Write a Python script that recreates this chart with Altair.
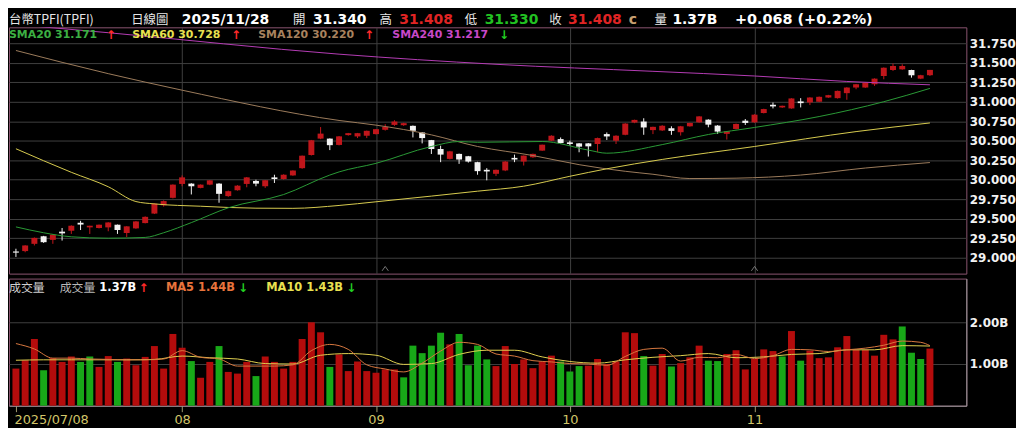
import altair as alt
import pandas as pd

# ---------------- data ----------------
idx = list(range(100))
opens = [29.080, 29.085, 29.178, 29.275, 29.229, 29.334, 29.347, 29.448, 29.389, 29.381,
         29.389, 29.423, 29.317, 29.376, 29.444, 29.566, 29.672, 29.768, 29.946, 29.950,
         29.895, 29.937, 29.950, 29.790, 29.865, 29.946, 29.984, 29.916, 30.030, 30.009,
         30.055, 30.148, 30.317, 30.527, 30.527, 30.446, 30.572, 30.555, 30.564, 30.585,
         30.640, 30.703, 30.699, 30.691, 30.606, 30.508, 30.394, 30.267, 30.331, 30.301,
         30.225, 30.127, 30.076, 30.119, 30.280, 30.233, 30.288, 30.373, 30.500, 30.521,
         30.479, 30.466, 30.466, 30.458, 30.585, 30.500, 30.576, 30.733, 30.746, 30.636,
         30.632, 30.660, 30.609, 30.685, 30.736, 30.770, 30.694, 30.588, 30.651, 30.757,
         30.736, 30.855, 30.961, 30.927, 30.914, 31.004, 30.991, 31.000, 31.054, 31.046,
         31.110, 31.182, 31.182, 31.224, 31.330, 31.407, 31.415, 31.407, 31.296, 31.340]
highs = [29.115, 29.160, 29.260, 29.280, 29.300, 29.381, 29.415, 29.473, 29.410, 29.425,
         29.455, 29.425, 29.405, 29.470, 29.530, 29.700, 29.735, 29.940, 30.055, 29.955,
         29.940, 29.995, 29.955, 29.860, 29.930, 30.035, 30.000, 29.995, 30.064, 30.070,
         30.120, 30.310, 30.510, 30.675, 30.530, 30.560, 30.600, 30.600, 30.630, 30.650,
         30.712, 30.763, 30.730, 30.695, 30.610, 30.510, 30.436, 30.370, 30.335, 30.305,
         30.230, 30.148, 30.130, 30.240, 30.322, 30.310, 30.335, 30.450, 30.570, 30.542,
         30.500, 30.470, 30.470, 30.540, 30.606, 30.570, 30.725, 30.770, 30.788, 30.680,
         30.700, 30.685, 30.690, 30.730, 30.815, 30.775, 30.700, 30.625, 30.720, 30.778,
         30.840, 30.910, 30.990, 30.950, 31.045, 31.046, 31.058, 31.067, 31.088, 31.143,
         31.186, 31.228, 31.250, 31.300, 31.440, 31.490, 31.480, 31.410, 31.345, 31.408]
lows = [29.010, 29.070, 29.157, 29.190, 29.178, 29.220, 29.305, 29.355, 29.305, 29.375,
        29.339, 29.305, 29.263, 29.370, 29.440, 29.560, 29.655, 29.760, 29.916, 29.811,
        29.890, 29.930, 29.705, 29.780, 29.860, 29.903, 29.916, 29.895, 29.958, 30.000,
        30.050, 30.140, 30.310, 30.520, 30.380, 30.440, 30.565, 30.534, 30.534, 30.580,
        30.630, 30.690, 30.690, 30.542, 30.466, 30.330, 30.225, 30.260, 30.203, 30.220,
        30.064, 29.992, 30.047, 30.110, 30.225, 30.182, 30.280, 30.370, 30.495, 30.465,
        30.436, 30.352, 30.297, 30.352, 30.510, 30.458, 30.570, 30.725, 30.576, 30.585,
        30.625, 30.575, 30.566, 30.680, 30.730, 30.672, 30.588, 30.515, 30.645, 30.702,
        30.730, 30.850, 30.914, 30.920, 30.910, 30.927, 30.957, 30.995, 31.050, 31.040,
        31.025, 31.160, 31.178, 31.203, 31.288, 31.395, 31.410, 31.309, 31.290, 31.330]
closes = [29.065, 29.157, 29.254, 29.199, 29.296, 29.312, 29.410, 29.425, 29.410, 29.423,
          29.452, 29.355, 29.402, 29.465, 29.524, 29.693, 29.726, 29.937, 30.030, 29.916,
          29.937, 29.992, 29.819, 29.853, 29.924, 30.030, 29.950, 29.992, 30.009, 30.064,
          30.118, 30.308, 30.506, 30.591, 30.443, 30.556, 30.597, 30.597, 30.627, 30.648,
          30.678, 30.746, 30.725, 30.627, 30.534, 30.394, 30.322, 30.364, 30.259, 30.233,
          30.110, 30.106, 30.127, 30.233, 30.259, 30.309, 30.331, 30.449, 30.564, 30.470,
          30.458, 30.424, 30.428, 30.534, 30.555, 30.564, 30.720, 30.767, 30.670, 30.678,
          30.692, 30.626, 30.685, 30.728, 30.812, 30.706, 30.617, 30.621, 30.715, 30.728,
          30.834, 30.906, 30.940, 30.948, 31.042, 30.982, 31.054, 31.063, 31.084, 31.139,
          31.182, 31.224, 31.245, 31.296, 31.436, 31.458, 31.458, 31.339, 31.340, 31.408]

volumes = [0.89, 1.09, 1.60, 0.85, 1.14, 1.05, 1.18, 1.05, 1.18, 0.93,
           1.19, 1.05, 1.13, 0.97, 1.17, 1.43, 0.89, 1.72, 1.39, 1.07,
           0.67, 1.05, 1.43, 0.81, 0.77, 1.05, 0.71, 1.18, 1.05, 0.89,
           1.05, 1.60, 2.00, 1.76, 0.93, 1.23, 0.83, 1.06, 0.83, 0.79,
           0.87, 0.87, 0.68, 1.44, 1.26, 1.44, 1.75, 1.47, 1.72, 0.97,
           1.44, 1.11, 0.95, 1.43, 1.00, 1.11, 0.90, 1.06, 1.20, 1.06,
           0.82, 0.95, 0.96, 1.12, 1.00, 1.06, 1.76, 1.74, 1.19, 0.96,
           1.24, 0.94, 1.02, 1.16, 1.44, 1.08, 1.07, 1.24, 1.33, 0.87,
           1.12, 1.35, 1.31, 1.18, 1.79, 1.08, 1.32, 1.14, 1.16, 1.40,
           1.67, 1.34, 1.34, 1.20, 1.70, 1.59, 1.90, 1.27, 1.12, 1.37]
vol_up = [1, 1, 1, 0, 1, 1, 1, 0, 0, 1,
          1, 0, 1, 1, 1, 1, 1, 1, 1, 0,
          1, 1, 0, 1, 1, 1, 0, 1, 1, 1,
          1, 1, 1, 1, 0, 1, 1, 1, 1, 1,
          1, 1, 0, 0, 0, 0, 0, 1, 0, 0,
          0, 0, 1, 1, 1, 1, 1, 1, 1, 0,
          0, 0, 1, 1, 1, 1, 1, 1, 0, 1,
          1, 0, 1, 1, 1, 0, 0, 1, 1, 1,
          1, 1, 1, 0, 1, 0, 1, 1, 1, 1,
          1, 1, 1, 1, 1, 1, 0, 0, 0, 1]

sma20_idx = [0, 3, 6, 10, 14, 16, 19, 23, 29, 34, 35, 39, 45, 48, 50, 57, 62, 64, 70, 75, 80, 87, 94, 99]
sma20_val = [29.395, 29.32, 29.268, 29.25, 29.26, 29.32, 29.45, 29.64, 29.81, 30.06, 30.10, 30.21,
             30.426, 30.49, 30.48, 30.49, 30.38, 30.34, 30.45, 30.58, 30.67, 30.81, 31.0, 31.171]
sma60_idx = [0, 6, 10, 13, 15, 20, 26, 30, 35, 39, 45, 50, 55, 60, 64, 70, 80, 91, 99]
sma60_val = [30.397, 30.095, 29.91, 29.72, 29.69, 29.66, 29.635, 29.633, 29.67, 29.717, 29.79,
             29.853, 29.917, 30.044, 30.14, 30.26, 30.426, 30.617, 30.728]
sma120_idx = [0, 10, 18, 35, 39, 45, 50, 56, 61, 66, 69, 73, 78, 85, 92, 99]
sma120_val = [31.657, 31.36, 31.148, 30.76, 30.70, 30.575, 30.426, 30.31, 30.193, 30.108, 30.07,
              30.015, 30.02, 30.06, 30.15, 30.22]
sma240_idx = [0, 10, 35, 52, 69, 80, 90, 99]
sma240_val = [31.99, 31.885, 31.61, 31.48, 31.39, 31.33, 31.26, 31.217]

ma5_idx = [0, 2, 4, 6, 8, 10, 12, 14, 16, 18, 20, 22, 24, 26, 28, 30, 32, 34, 36, 38, 40, 42, 44, 46,
           48, 50, 52, 54, 56, 58, 60, 62, 64, 66, 68, 70, 72, 74, 76, 78, 80, 82, 84, 86, 88, 90,
           92, 94, 96, 98, 99]
ma5_val = [1.49, 1.36, 1.14, 1.14, 1.12, 1.11, 1.10, 1.10, 1.12, 1.32, 1.16, 1.12, 0.95, 0.95, 0.95,
           0.98, 1.32, 1.47, 1.35, 0.98, 0.88, 0.81, 1.02, 1.31, 1.52, 1.47, 1.24, 1.19, 1.08, 1.05,
           1.01, 1.00, 0.97, 1.18, 1.35, 1.38, 1.07, 1.16, 1.15, 1.23, 1.13, 1.20, 1.35, 1.34, 1.30,
           1.34, 1.38, 1.45, 1.55, 1.52, 1.44]
ma10_idx = [0, 3, 6, 9, 12, 15, 18, 21, 24, 27, 30, 33, 36, 39, 42, 45, 48, 51, 54, 57, 60, 63, 66,
            69, 72, 75, 78, 81, 84, 87, 90, 93, 96, 99]
ma10_val = [1.09, 1.10, 1.10, 1.10, 1.10, 1.11, 1.19, 1.15, 1.12, 1.01, 1.00, 1.21, 1.25, 1.21, 0.99,
            1.01, 1.23, 1.33, 1.33, 1.17, 1.06, 1.02, 1.10, 1.16, 1.20, 1.25, 1.15, 1.17, 1.23, 1.25,
            1.34, 1.34, 1.44, 1.43]

month_idx = [0, 18, 39, 60, 80]
month_lbl = ["2025/07/08", "08", "09", "10", "11"]
price_ticks = [29.0, 29.25, 29.5, 29.75, 30.0, 30.25, 30.5, 30.75, 31.0, 31.25, 31.5, 31.75]
vol_ticks = [1.0, 2.0]
marker_idx = [40, 80]

# ---------------- styling ----------------
SANS = "DejaVu Sans"
CJK = "Noto Sans CJK TC"
GRID = "#404040"
BORDER = "#8a5570"
RED = "#c0161b"
WHITE = "#f2f2f2"
VRED = "#b40c0c"
VGREEN = "#18a818"
W = 964
H_PRICE = 248
H_VOL = 128
TOP_EXTENT = 16.5   # room above the price panel for the header line

xscale = alt.Scale(domain=[-0.213, 102.406], nice=False, zero=False)
pscale = alt.Scale(domain=[28.796, 31.954], nice=False, zero=False)
vscale = alt.Scale(domain=[0, 3.048], nice=False, zero=False)

x_price_axis = alt.Axis(values=month_idx[1:], grid=True, gridColor=GRID, labels=False,
                        ticks=False, domain=False, title=None)
y_price_axis = alt.Axis(orient="right", values=price_ticks, format=".3f", grid=True, gridColor=GRID,
                        tickSize=0, domain=False, labelPadding=3, labelColor="#f2f2f2",
                        labelFont=SANS, labelFontWeight="bold", labelFontSize=12, title=None)

xp = alt.X("i:Q", scale=xscale, axis=x_price_axis)


def yp(field):
    return alt.Y(field, scale=pscale, axis=y_price_axis)


one = pd.DataFrame({"k": [0]})


def label(text, color, x, y, size, weight="bold", font=SANS, baseline="middle"):
    return alt.Chart(one).mark_text(text=text, color=color, fontSize=size, fontWeight=weight,
                                    font=font, align="left", baseline=baseline).encode(
        x=alt.value(x), y=alt.value(y))


cdf = pd.DataFrame({"i": idx, "o": opens, "h": highs, "l": lows, "c": closes})
ccol = alt.condition("datum.c >= datum.o", alt.value(RED), alt.value(WHITE))

wicks = alt.Chart(cdf).mark_rule(strokeWidth=1).encode(x=xp, y=yp("l:Q"), y2="h:Q", color=ccol)
bodies = alt.Chart(cdf).mark_bar(size=6).encode(x=xp, y=yp("o:Q"), y2="c:Q", color=ccol)


def pline(ix, vals, color):
    d = pd.DataFrame({"i": ix, "v": vals})
    return alt.Chart(d).mark_line(color=color, strokeWidth=1, interpolate="monotone",
                                  clip=True).encode(x=xp, y=yp("v:Q"))


lines = [
    pline(sma240_idx, sma240_val, "#b43cb4"),
    pline(sma120_idx, sma120_val, "#9c7c5c"),
    pline(sma60_idx, sma60_val, "#d8cc50"),
    pline(sma20_idx, sma20_val, "#2a9a36"),
]

markers = alt.Chart(pd.DataFrame({"i": marker_idx})).mark_point(
    shape="M-1,0.7L0,-0.7L1,0.7", filled=False, color="#a8a8a8", size=40, strokeWidth=1
).encode(x=xp, y=alt.value(H_PRICE - 5))

# invisible (black on black) rule that reserves the header band above the panel
top_band = alt.Chart(one).mark_rule(color="#000000", strokeWidth=1).encode(
    x=alt.value(0), x2=alt.value(2), y=alt.value(-TOP_EXTENT), y2=alt.value(-TOP_EXTENT))

HY = -3  # header baseline (alphabetic), relative to the panel top
header = [
    ("台幣TPFI(TPFI)", "#e6e6e6", 0, 12.5, "normal", CJK),
    ("日線圖", "#e6e6e6", 123, 12.5, "normal", CJK),
    ("2025/11/28", "#ffffff", 174, 14, "bold", SANS),
    ("開", "#e6e6e6", 286, 12.5, "normal", CJK),
    ("31.340", "#ffffff", 306, 14, "bold", SANS),
    ("高", "#e6e6e6", 373, 12.5, "normal", CJK),
    ("31.408", "#e02424", 393, 14, "bold", SANS),
    ("低", "#e6e6e6", 459, 12.5, "normal", CJK),
    ("31.330", "#22c022", 479, 14, "bold", SANS),
    ("收", "#e6e6e6", 544, 12.5, "normal", CJK),
    ("31.408", "#e02424", 563, 14, "bold", SANS),
    ("c", "#c8a070", 624, 14, "bold", SANS),
    ("量", "#e6e6e6", 650, 12.5, "normal", CJK),
    ("1.37B", "#ffffff", 668, 14, "bold", SANS),
    ("+0.068 (+0.22%)", "#ffffff", 731, 14.5, "bold", SANS),
]
header_marks = [label(t, c, x, HY, s, w, f, "alphabetic") for t, c, x, s, w, f in header]

LY = 7.5
UP = "#ff2a2a"
DN = "#22d022"
legend = [
    ("SMA20 31.171", "#3cb043", 0, 11), ("↑", UP, 98, 12),
    ("SMA60 30.728", "#e8e050", 124, 11), ("↑", UP, 224, 12),
    ("SMA120 30.220", "#a8825e", 251, 11), ("↑", UP, 358, 12),
    ("SMA240 31.217", "#c848c8", 386, 11), ("↓", DN, 494, 12),
]
legend_marks = [label(t, c, x, LY, s) for t, c, x, s in legend]

price = alt.layer(wicks, bodies, *lines, markers, top_band, *legend_marks,
                  *header_marks).properties(width=W, height=H_PRICE)

# ---------------- volume panel ----------------
lbl_expr = " : ".join(f"datum.value == {m} ? '{l}'" for m, l in zip(month_idx, month_lbl)) + " : ''"
first_test = f"datum.value == {month_idx[0]}"
x_vol_axis = alt.Axis(
    values=month_idx, labelExpr=lbl_expr, grid=True,
    gridColor={"condition": {"test": first_test, "value": "transparent"}, "value": GRID},
    tickSize=6, tickColor="#a09a70", domain=True, domainColor="#9a9a9a",
    labelColor="#d2c66a", labelFont=SANS, labelFontSize=13, labelPadding=2,
    labelAlign={"condition": {"test": first_test, "value": "left"}, "value": "center"},
    labelOffset={"condition": {"test": first_test, "value": -2}, "value": 0},
    labelFlush=False, labelOverlap=False, title=None)
y_vol_axis = alt.Axis(orient="right", values=vol_ticks,
                      labelExpr="format(datum.value, '.2f') + 'B'", grid=True, gridColor=GRID,
                      tickSize=0, domain=True, domainColor="#9a9a9a", labelPadding=3,
                      labelColor="#f2f2f2", labelFont=SANS, labelFontWeight="bold",
                      labelFontSize=12, title=None)
xv = alt.X("i:Q", scale=xscale, axis=x_vol_axis)

vdf = pd.DataFrame({"i": idx, "v": volumes, "up": vol_up})
vbars = alt.Chart(vdf).mark_bar(size=7).encode(
    x=xv, y=alt.Y("v:Q", scale=vscale, axis=y_vol_axis),
    color=alt.condition("datum.up == 1", alt.value(VRED), alt.value(VGREEN)))


def vline(ix, vals, color):
    d = pd.DataFrame({"i": ix, "v": vals})
    return alt.Chart(d).mark_line(color=color, strokeWidth=1, interpolate="monotone").encode(
        x=xv, y=alt.Y("v:Q", scale=vscale, axis=y_vol_axis))


vlines = [vline(ma10_idx, ma10_val, "#e0d050"), vline(ma5_idx, ma5_val, "#d87840")]

VY = 9.5
vlegend = [
    ("成交量", "#d0d0d0", 0, 12, "normal", CJK),
    ("成交量", "#b8b8b8", 51, 12, "normal", CJK),
    ("1.37B", "#ffffff", 91, 11.5, "bold", SANS),
    ("↑", UP, 131, 12, "bold", SANS),
    ("MA5 1.44B", "#e8743c", 158, 11.5, "bold", SANS),
    ("↓", DN, 231, 12, "bold", SANS),
    ("MA10 1.43B", "#e8e050", 259, 11.5, "bold", SANS),
    ("↓", DN, 340, 12, "bold", SANS),
]
vlegend_marks = [label(t, c, x, VY, s, w, f) for t, c, x, s, w, f in vlegend]

vol = alt.layer(vbars, *vlines, *vlegend_marks).properties(width=W, height=H_VOL)

chart = alt.vconcat(price, vol, spacing=3).properties(
    padding=0, background="#000000"
).configure_view(stroke=BORDER, strokeWidth=1)

chart.save("out.html", embed_options={"renderer": "svg", "actions": False})
